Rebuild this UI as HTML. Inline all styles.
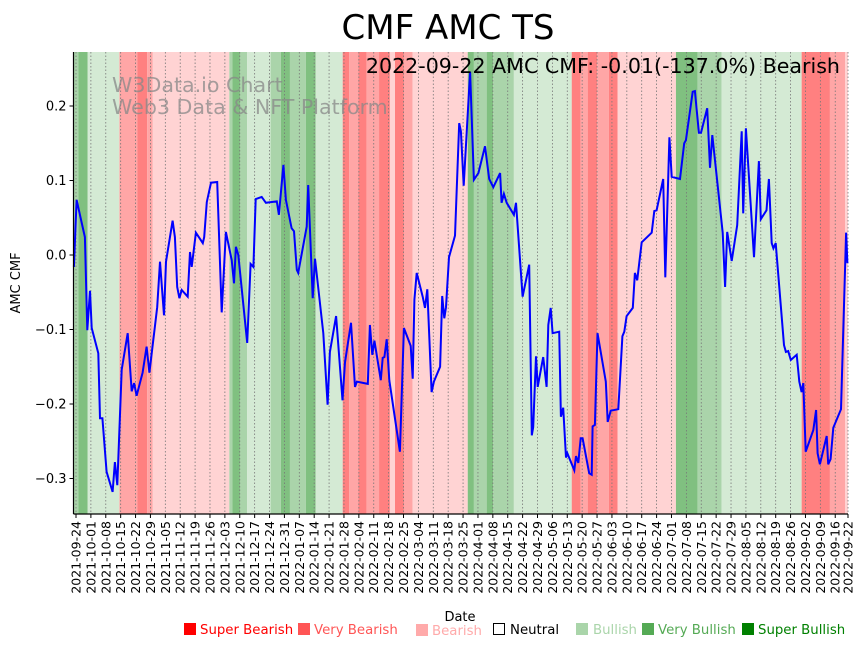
<!DOCTYPE html>
<html><head><meta charset="utf-8"><style>
body{margin:0;background:#fff;}
svg{display:block;font-family:"DejaVu Sans","Liberation Sans",sans-serif;}
</style></head><body>
<svg id="chart" width="867" height="646" viewBox="0 0 867 646" xmlns="http://www.w3.org/2000/svg">
<text x="448" y="39" text-anchor="middle" font-size="34" fill="#000">CMF AMC TS</text>
<g id="bands"></g>
<g id="grid"></g>
<g fill="#888" fill-opacity="0.75" font-size="20.6">
<text x="112" y="92">W3Data.io Chart</text>
<text x="112" y="114">Web3 Data &amp; NFT Platform</text>
</g>
<polyline id="line" fill="none" stroke="#0000ff" stroke-width="2"/>
<text x="840" y="73" text-anchor="end" font-size="20.6" fill="#000">2022-09-22 AMC CMF: -0.01(-137.0%) Bearish</text>
<g id="axes"></g>
<text transform="translate(20,283) rotate(-90)" text-anchor="middle" font-size="13">AMC CMF</text>
<text x="460" y="621" text-anchor="middle" font-size="13">Date</text>
<g font-size="13.3">
<g><rect x="184" y="623" width="12" height="12" fill="#ff0000"/><text x="200" y="634" fill="#ff0000">Super Bearish</text></g>
<g><rect x="298" y="623" width="12" height="12" fill="#ff5555"/><text x="314" y="634" fill="#ff5555">Very Bearish</text></g>
<g><rect x="416" y="624" width="12" height="12" fill="#ffaaaa"/><text x="432" y="635" fill="#ffaaaa">Bearish</text></g>
<g><rect x="493.5" y="623.5" width="11" height="11" fill="none" stroke="#000"/><text x="510" y="634" fill="#000">Neutral</text></g>
<g><rect x="576" y="623" width="12" height="12" fill="#aad5aa"/><text x="593" y="634" fill="#aad5aa">Bullish</text></g>
<g><rect x="642" y="623" width="12" height="12" fill="#55aa55"/><text x="658" y="634" fill="#55aa55">Very Bullish</text></g>
<g><rect x="742" y="623" width="12" height="12" fill="#008000"/><text x="758" y="634" fill="#008000">Super Bullish</text></g>
</g>
</svg>
<script>
// days since 2021-09-24
const dayX = [-1,0.3,4.2,5.3,6.6,7.4,10.5,11.3,12.4,14.4,17.2,18.3,19.4,21.5,24.3,26.2,27.3,28.5,31.3,33.2,34.5,38.2,39.5,41.4,42.3,45.4,46.5,47.6,48.6,49.7,52.5,53.6,54.4,56.4,59.6,60.3,61.5,63.5,66.4,68.5,70.5,73.2,74.3,75.2,76.3,80.5,82.1,83.4,84.5,87.3,89.3,94.4,95.4,97.5,98.7,101.4,102.5,103.8,104.5,108.5,109.2,111.3,112.4,116.3,118.3,119.4,122.3,125.3,126.5,129.3,131.2,132.1,137.2,138.2,139.3,140.3,143.3,144.2,145.0,146.1,147.3,152.3,154.2,157.4,158.3,159.1,160.2,163.0,164.1,165.2,167.2,168.3,171.2,172.2,173.2,174.0,175.4,178.2,180.2,181.0,182.3,185.3,187.1,189.2,192.3,194.3,196.2,199.4,200.1,201.2,202.5,205.9,206.9,210.0,213.1,214.3,215.0,216.3,217.1,219.7,221.3,222.1,223.2,224.1,227.2,228.0,229.1,230.4,231.0,234.3,235.1,236.2,237.3,238.2,241.3,242.5,242.9,244.0,245.2,249.1,250.0,251.4,255.0,256.9,257.8,258.9,261.8,262.8,263.9,266.0,270.7,271.9,273.0,276.1,277.1,279.0,280.1,284.0,286.0,286.8,290.0,291.0,292.9,293.9,296.8,298.1,299.2,304.1,305.2,306.2,308.3,310.9,313.0,313.7,315.0,318.8,321.1,322.0,324.7,325.8,327.1,327.9,329.0,332.9,333.8,334.9,336.1,338.9,340.1,341.2,342.0,343.1,346.7,348.0,348.7,349.8,353.0,353.7,354.8,356.1,359.7,362.1,362.7];
const cmfValues = [-0.016,0.074,0.024,-0.101,-0.048,-0.098,-0.132,-0.219,-0.219,-0.291,-0.318,-0.278,-0.309,-0.154,-0.105,-0.183,-0.172,-0.189,-0.158,-0.123,-0.158,-0.070,-0.009,-0.081,-0.009,0.046,0.024,-0.043,-0.058,-0.047,-0.056,0.004,-0.016,0.030,0.016,0.024,0.071,0.097,0.098,-0.077,0.031,-0.007,-0.038,0.011,0,-0.118,-0.012,-0.016,0.075,0.078,0.070,0.072,0.054,0.121,0.074,0.036,0.032,-0.020,-0.024,0.038,0.094,-0.058,-0.005,-0.105,-0.201,-0.130,-0.082,-0.195,-0.144,-0.091,-0.177,-0.170,-0.173,-0.094,-0.134,-0.115,-0.168,-0.138,-0.137,-0.113,-0.168,-0.264,-0.098,-0.122,-0.166,-0.060,-0.024,-0.056,-0.071,-0.046,-0.184,-0.170,-0.150,-0.055,-0.085,-0.070,-0.003,0.026,0.177,0.166,0.093,0.246,0.101,0.110,0.146,0.102,0.091,0.110,0.070,0.082,0.070,0.054,0.070,-0.056,-0.013,-0.242,-0.231,-0.136,-0.177,-0.137,-0.177,-0.094,-0.071,-0.105,-0.103,-0.217,-0.205,-0.272,-0.266,-0.289,-0.270,-0.279,-0.246,-0.246,-0.293,-0.295,-0.230,-0.228,-0.105,-0.170,-0.224,-0.209,-0.207,-0.109,-0.103,-0.082,-0.071,-0.024,-0.034,0.017,0.030,0.059,0.060,0.102,-0.030,0.158,0.105,0.102,0.150,0.154,0.219,0.220,0.164,0.164,0.197,0.117,0.161,0.030,-0.043,0.031,-0.008,0.040,0.166,0.056,0.170,-0.003,0.126,0.048,0.060,0.102,0.016,0.009,0.016,-0.121,-0.130,-0.129,-0.141,-0.134,-0.170,-0.184,-0.172,-0.264,-0.235,-0.208,-0.266,-0.281,-0.243,-0.281,-0.274,-0.232,-0.207,0.030,-0.011];
const bandStarts = [-1,1.1,5.5,20.4,28.8,33.5,36.1,72.1,73.5,77.1,80.5,91.5,96.3,100.6,108.1,112.7,125.4,128.5,132.7,136.7,142.5,147.6,150.0,154.2,158.3,184.2,187.1,193.1,196.2,205.9,233.1,237.3,240.6,245.1,250.6,254.7,282.1,292.3,303.6,341.2,354.5,361.6];
const bandEnds = [1.1,5.5,20.4,28.8,33.5,36.1,72.1,73.5,77.1,80.5,91.5,96.3,100.6,108.1,112.7,125.4,128.5,132.7,136.7,142.5,147.6,150.0,154.2,158.3,184.2,187.1,193.1,196.2,205.9,233.1,237.3,240.6,245.1,250.6,254.7,282.1,292.3,303.6,341.2,354.5,361.6,363.2];
const bandLevels = [2,3,1,-2,-3,-2,-1,2,3,2,1,2,3,2,3,1,-3,-2,-3,-2,-3,-1,-3,-2,-1,3,2,3,2,1,-3,-2,-3,-2,-3,-1,3,2,1,-3,-2,-1];
const tickDays = [0,7,14,21,28,35,42,49,56,63,70,77,84,91,98,105,112,119,126,133,140,147,154,161,168,175,182,189,196,203,210,217,224,231,238,245,252,259,266,273,280,287,294,301,308,315,322,329,336,343,350,357,363];
const tickLabels = ["2021-09-24","2021-10-01","2021-10-08","2021-10-15","2021-10-22","2021-10-29","2021-11-05","2021-11-12","2021-11-19","2021-11-26","2021-12-03","2021-12-10","2021-12-17","2021-12-24","2021-12-31","2022-01-07","2022-01-14","2022-01-21","2022-01-28","2022-02-04","2022-02-11","2022-02-18","2022-02-25","2022-03-04","2022-03-11","2022-03-18","2022-03-25","2022-04-01","2022-04-08","2022-04-15","2022-04-22","2022-04-29","2022-05-06","2022-05-13","2022-05-20","2022-05-27","2022-06-03","2022-06-10","2022-06-17","2022-06-24","2022-07-01","2022-07-08","2022-07-15","2022-07-22","2022-07-29","2022-08-05","2022-08-12","2022-08-19","2022-08-26","2022-09-02","2022-09-09","2022-09-16","2022-09-22"];
const yTicks = [0.2,0.1,0,-0.1,-0.2,-0.3];
const yTickLabels = ["0.2","0.1","0.0","\u22120.1","\u22120.2","\u22120.3"];

const L=73.5,R=848,T=52,B=514;
const xS=d=>76+d*(772/363);
const yS=v=>255-v*745;
const NS="http://www.w3.org/2000/svg";
const mk=(t,a,p)=>{const e=document.createElementNS(NS,t);for(const k in a)e.setAttribute(k,a[k]);p.appendChild(e);return e;};
const colors={"-3":"#ff8080","-2":"#ffa6a6","-1":"#ffd3d3","1":"#d4ead4","2":"#aad4aa","3":"#80c080"};
const bg=document.getElementById('bands');
bandStarts.forEach((s,i)=>{
  const x0=Math.max(L,xS(s)),x1=Math.min(R,xS(bandEnds[i]));
  const r=mk('rect',{x:x0,y:T,width:Math.max(0,x1-x0),height:B-T,fill:colors[bandLevels[i]]},bg);
  
  
});
const gg=document.getElementById('grid');
const ax=document.getElementById('axes');
tickDays.forEach((d,i)=>{
  const x=xS(d);
  const g=mk('line',{x1:x,x2:x,y1:T,y2:B,stroke:"#777","stroke-width":0.8,"stroke-dasharray":"1.5,2"},gg);
  
  
  const t=mk('line',{x1:x,x2:x,y1:B,y2:B+4,stroke:"#000","stroke-width":1},ax);
  
  
  const lb=mk('text',{transform:`translate(${x+4.5},${B+7}) rotate(-90)`,"text-anchor":"end","font-size":12.5,fill:"#000"},ax);
  lb.textContent=tickLabels[i];
  
  
});
yTicks.forEach((v,i)=>{
  const y=yS(v);
  const t=mk('line',{x1:L-4,x2:L,y1:y,y2:y,stroke:"#000"},ax);
  
  
  const lb=mk('text',{x:L-7,y:y+4.5,"text-anchor":"end","font-size":13,fill:"#000"},ax);
  lb.textContent=yTickLabels[i];
  
  
});
const ya=mk('line',{x1:L,x2:L,y1:T,y2:B,stroke:"#000","stroke-width":1.2},ax);


const xa=mk('line',{x1:L,x2:R,y1:B,y2:B,stroke:"#000","stroke-width":1.2},ax);


document.getElementById('line').setAttribute('points',dayX.map((d,i)=>xS(d).toFixed(1)+','+yS(cmfValues[i]).toFixed(1)).join(' '));
</script>
</body></html>
